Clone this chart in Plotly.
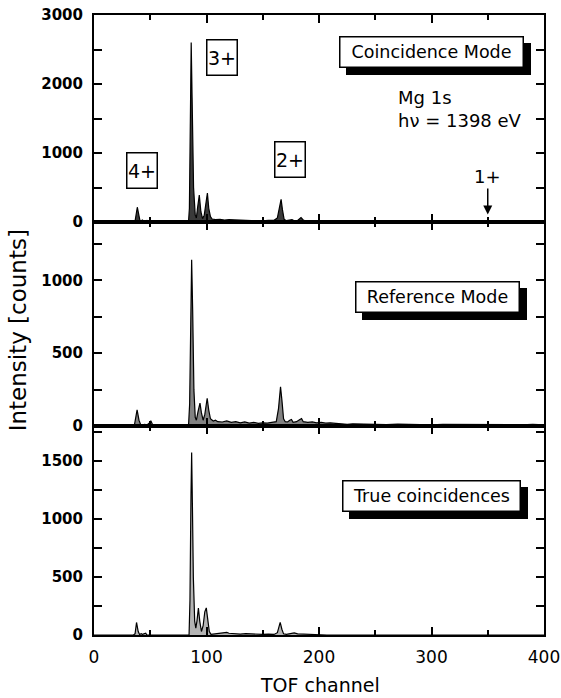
import plotly.graph_objects as go
from plotly.subplots import make_subplots

# ---- data: (TOF channel, counts) vertices ----
coinc_ch = [0, 35, 36.5, 38.5, 40, 41, 43, 44.5, 46, 47, 48, 50, 51, 84, 84.8, 85.6, 86.4, 87.2, 88.5, 90, 91,
            92, 93.6, 95, 96.5, 98, 99.5, 100.8, 102, 103.5, 105, 108, 112, 116, 120, 125, 130, 135, 140, 145,
            150, 155, 160, 163, 165, 166.3, 167.5, 169, 171, 174, 176, 178, 181, 184, 186, 188, 192, 196, 200,
            205, 210, 215, 220, 223, 224, 400]
coinc_ct = [0, 0, 15, 215, 90, 10, 30, 10, 20, 25, 5, 15, 0, 0, 200, 1200, 2600, 1800, 500, 100, 60,
            200, 390, 150, 50, 100, 300, 420, 200, 80, 45, 35, 40, 30, 35, 30, 28, 25, 20, 22,
            18, 25, 25, 60, 250, 330, 180, 40, 20, 25, 35, 20, 25, 65, 30, 15, 20, 15, 12,
            18, 10, 15, 8, 5, 0, 0]

ref_ch = [0, 35, 36, 38.3, 40, 41.5, 43, 45, 47, 49, 50.5, 52, 54, 56, 84, 85, 86, 86.8, 87.7, 88.8, 90, 91,
          92.5, 94.2, 95.5, 97, 98.5, 100.6, 102, 103.5, 106, 108, 110, 114, 118, 122, 126, 130, 134, 138,
          142, 146, 150, 154, 158, 162, 164, 165.8, 167, 168.5, 170, 172, 174, 175.5, 177, 180, 183, 184.5,
          186, 190, 194, 198, 202, 206, 210, 215, 220, 225, 230, 240, 250, 260, 270, 280, 290, 300, 310,
          320, 330, 340, 350, 360, 370, 380, 390, 398, 400]
ref_ct = [0, 0, 10, 111, 40, 10, 5, 12, 8, 20, 36, 10, 5, 0, 0, 150, 700, 1142, 800, 250, 60, 40,
          100, 157, 90, 40, 80, 191, 110, 50, 35, 40, 30, 28, 35, 25, 30, 22, 28, 20,
          25, 18, 22, 20, 25, 30, 120, 270, 180, 50, 30, 28, 40, 45, 25, 30, 45, 52,
          30, 25, 28, 22, 25, 20, 22, 18, 15, 12, 15, 12, 14, 10, 13, 10, 12, 9, 11,
          10, 12, 9, 11, 8, 10, 9, 11, 8, 8]

true_ch = [0, 35, 36.5, 37.8, 39.3, 40.5, 42, 43, 46, 47, 84.5, 85.3, 86.2, 86.8, 87.5, 88.3, 89.5, 90.5,
           91.5, 92.8, 94, 95.5, 97, 98.5, 99.8, 101, 102.5, 104, 110, 116, 118, 120, 125, 130, 135, 140,
           145, 150, 155, 160, 163, 165.5, 167, 168.5, 171, 175, 178, 181, 185, 190, 195, 200, 205, 207, 400]
true_ct = [0, 0, 10, 108, 30, 5, 12, 5, 15, 0, 0, 300, 1200, 1573, 1100, 500, 120, 60,
           120, 233, 120, 30, 80, 200, 233, 130, 30, 5, 10, 15, 22, 15, 10, 8, 12, 8,
           10, 5, 8, 5, 20, 108, 50, 10, 5, 12, 18, 10, 8, 12, 6, 5, 3, 0, 0]

panel_names = ["Coincidence Mode", "Reference Mode", "True coincidences"]
fill_colors = ["#3a3a3a", "#828282", "#b4b4b4"]
y_ranges = [[0, 3000], [0, 1400], [0, 1800]]
y_dticks = [1000, 500, 500]
y_minor = [500, 250, 250]
label_x = [300, 305, 300]
label_y = [2466, 889, 1197]

FONT = "DejaVu Sans"

fig = make_subplots(rows=3, cols=1, shared_xaxes=True, vertical_spacing=0)

series = [(coinc_ch, coinc_ct), (ref_ch, ref_ct), (true_ch, true_ct)]
for i, (xs, ys) in enumerate(series):
    fig.add_trace(go.Scatter(x=xs, y=ys, mode="lines", fill="tozeroy",
                             fillcolor=fill_colors[i],
                             line=dict(color="black", width=1.2),
                             showlegend=False), row=i + 1, col=1)

domains = [[0.666, 1.0], [0.337, 0.666], [0.0, 0.337]]
for i in range(3):
    r = i + 1
    fig.update_xaxes(range=[0, 400], showline=True, linecolor="black", linewidth=2,
                     mirror="ticks", ticks="inside", ticklen=8, tickwidth=2, tickcolor="black",
                     dtick=100, tick0=0, showgrid=False, zeroline=False, automargin=False,
                     minor=dict(ticks="inside", ticklen=5, tickwidth=2, dtick=50, tickcolor="black",
                                showgrid=False),
                     showticklabels=(r == 3),
                     tickfont=dict(family=FONT, size=17, color="black"),
                     ticklabelstandoff=6,
                     row=r, col=1)
    fig.update_yaxes(range=y_ranges[i], domain=domains[i], showline=True, linecolor="black",
                     linewidth=2, mirror="ticks", ticks="inside", ticklen=8, tickwidth=2,
                     tickcolor="black", dtick=y_dticks[i], tick0=0, showgrid=False, zeroline=False,
                     automargin=False,
                     minor=dict(ticks="inside", ticklen=8, tickwidth=2, dtick=y_minor[i],
                                tickcolor="black", showgrid=False),
                     tickfont=dict(family=FONT, size=15, color="black", weight="bold"),
                     ticklabelstandoff=6,
                     row=r, col=1)

ann = []
# mode boxes with drop shadows
box_w = [180, 160, 174]
for i in range(3):
    xr = "x" if i == 0 else "x%d" % (i + 1)
    yr = "y" if i == 0 else "y%d" % (i + 1)
    common = dict(x=label_x[i], y=label_y[i], xref=xr, yref=yr, showarrow=False,
                  xanchor="center", yanchor="middle",
                  text=panel_names[i], width=box_w[i], height=27, borderpad=1, borderwidth=1.5)
    ann.append(dict(common, bgcolor="black", bordercolor="black", xshift=7, yshift=-7,
                    font=dict(family=FONT, size=17.5, color="black")))
    ann.append(dict(common, bgcolor="white", bordercolor="black",
                    font=dict(family=FONT, size=17.5, color="black")))

# charge state labels
charge_labels = ["3+", "4+", "2+"]
charge_x = [114, 43, 174]
charge_y = [2380, 754, 913]
for t, cx, cy in zip(charge_labels, charge_x, charge_y):
    ann.append(dict(x=cx, y=cy, xref="x", yref="y", showarrow=False, text=t,
                    xanchor="center", yanchor="middle",
                    width=27, height=32, borderpad=1, borderwidth=1.5,
                    bgcolor="white", bordercolor="black",
                    font=dict(family=FONT, size=19, color="black")))

ann.append(dict(x=268, y=1645, xref="x", yref="y", xanchor="left", yanchor="middle",
                showarrow=False, align="left",
                text="Mg 1s<br>h\u03bd = 1398 eV", font=dict(family=FONT, size=18, color="black")))

ann.append(dict(x=350, y=110, xref="x", yref="y", text="1+", showarrow=True, ax=0, ay=-38,
                arrowhead=2, arrowsize=1.2, arrowwidth=1.5, arrowcolor="black",
                font=dict(family=FONT, size=18, color="black")))

ann.append(dict(x=-0.168, y=0.492, xref="paper", yref="paper", showarrow=False, textangle=-90,
                xanchor="center", yanchor="middle",
                text="Intensity [counts]", font=dict(family=FONT, size=23, color="black")))
ann.append(dict(x=0.502, y=-0.081, xref="paper", yref="paper", showarrow=False,
                xanchor="center", yanchor="middle",
                text="TOF channel", font=dict(family=FONT, size=19, color="black")))

fig.update_layout(width=561, height=698,
                  margin=dict(l=94, r=17, t=15, b=63, autoexpand=False),
                  plot_bgcolor="white", paper_bgcolor="white", annotations=ann,
                  font=dict(family=FONT, color="black"))

fig.write_html("out.html")
